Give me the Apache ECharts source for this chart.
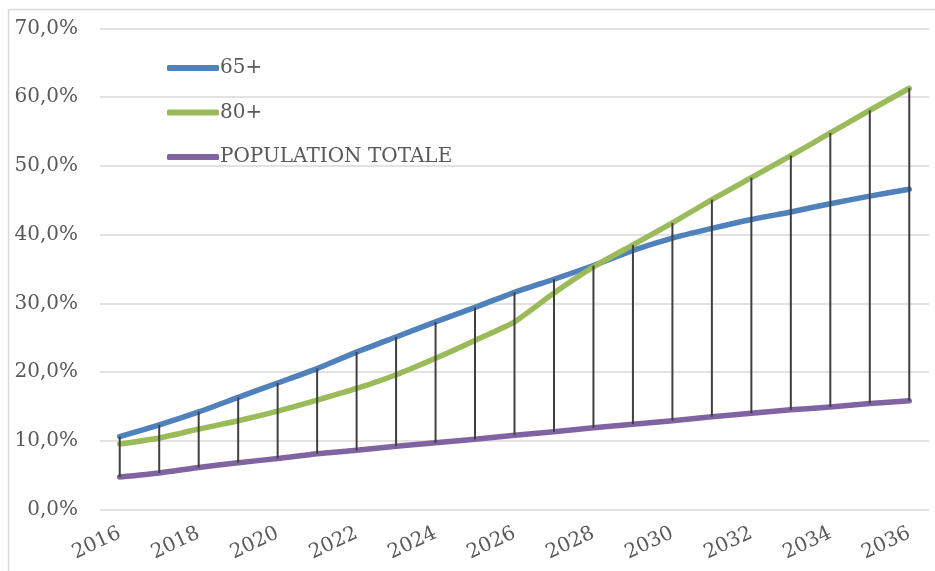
<!DOCTYPE html>
<html>
<head>
<meta charset="utf-8">
<script src="https://cdn.jsdelivr.net/npm/echarts@6/dist/echarts.min.js"></script>
<style>
html,body{margin:0;padding:0;background:#fff;}
#chart{width:935px;height:571px;}
</style>
</head>
<body>
<div id="chart"></div>
<script>
var years = ['2016','2017','2018','2019','2020','2021','2022','2023','2024','2025','2026','2027','2028','2029','2030','2031','2032','2033','2034','2035','2036'];
var s65 = [10.6,12.3,14.2,16.3,18.4,20.5,22.9,25.1,27.3,29.4,31.6,33.5,35.5,37.7,39.5,40.9,42.2,43.3,44.5,45.6,46.6];
var s80 = [9.5,10.4,11.7,12.9,14.3,15.9,17.6,19.6,22.0,24.6,27.3,31.5,35.3,38.5,41.7,45.1,48.3,51.5,54.8,58.1,61.3];
var sTot = [4.7,5.3,6.1,6.8,7.4,8.1,8.6,9.2,9.7,10.2,10.8,11.3,11.9,12.4,12.9,13.5,14.0,14.5,14.9,15.4,15.8];
var names = ['65+','80+','POPULATION TOTALE'];
var colors = ['#4F81BD','#9BBB59','#8064A2'];

var hiLo = years.map(function(y,i){
  var v=[s65[i],s80[i],sTot[i]];
  return [i, Math.min.apply(null,v), Math.max.apply(null,v)];
});

var font = 'DejaVu Serif';
var chart = echarts.init(document.getElementById('chart'));
function lineSeries(name, data, color){
  return {
    name:name, type:'line', data:data, smooth:0.2, symbol:'none',
    lineStyle:{color:color, width:5.5, cap:'round', join:'round'},
    itemStyle:{color:color}, z:2
  };
}
chart.setOption({
  animation:false,
  backgroundColor:'#fff',
  graphic:[{type:'rect', shape:{x:8.5,y:9.5,width:1000,height:1000}, style:{fill:null, stroke:'#d9d9d9', lineWidth:1.5}, z:-1, silent:true}],
  grid:{left:100, right:6, top:28.5, bottom:61.6},
  legend:{
    orient:'vertical', left:162, top:53, itemGap:24.5,
    itemWidth:52, itemHeight:6, icon:'roundRect',
    textStyle:{fontFamily:font, fontSize:20, color:'#595959', padding:[0,0,0,-4]},
    data:names
  },
  xAxis:{
    type:'category', data:years, boundaryGap:true,
    axisLine:{show:false}, axisTick:{show:false},
    axisLabel:{interval:1, rotate:25, margin:23, fontFamily:font, fontSize:20, color:'#595959'}
  },
  yAxis:{
    type:'value', min:0, max:70, interval:10,
    axisLine:{show:false}, axisTick:{show:false},
    splitLine:{lineStyle:{color:'#d9d9d9', width:1.5}},
    axisLabel:{margin:22, fontFamily:font, fontSize:20, color:'#595959',
      formatter:function(v){return v.toFixed(1).replace('.',',')+'%';}}
  },
  series:[
    lineSeries(names[0], s65, colors[0]),
    lineSeries(names[1], s80, colors[1]),
    lineSeries(names[2], sTot, colors[2]),
    {
      type:'custom', data:hiLo, z:5, silent:true,
      encode:{x:0, y:[1,2]},
      renderItem:function(params, api){
        var a = api.coord([api.value(0), api.value(1)]);
        var b = api.coord([api.value(0), api.value(2)]);
        return {type:'line', shape:{x1:a[0],y1:a[1],x2:b[0],y2:b[1]}, style:{stroke:'#404040', lineWidth:2}};
      }
    }
  ]
});
</script>
</body>
</html>
